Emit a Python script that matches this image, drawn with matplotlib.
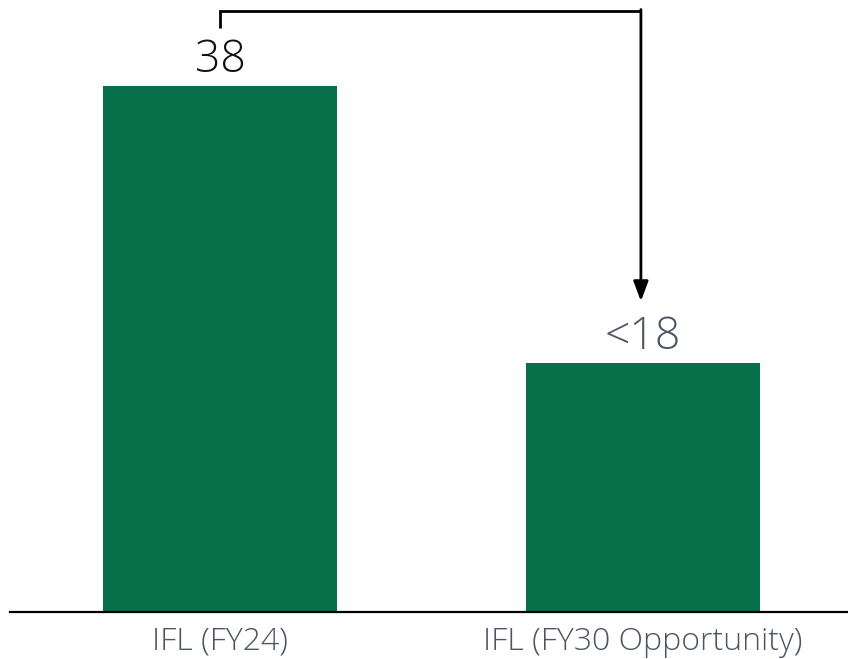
import matplotlib.pyplot as plt

categories = ["IFL (FY24)", "IFL (FY30 Opportunity)"]
values = [38, 18]
value_labels = ["38", "<18"]

green = "#07704B"
slate = "#4B5563"

plt.rcParams['font.family'] = ['Open Sans', 'DejaVu Sans']

fig = plt.figure(figsize=(8.48, 6.59), dpi=100)
ax = fig.add_axes([10 / 848, 47 / 659, 838 / 848, 612 / 659])

x = [0, 1]
ax.bar(x, values, width=0.553, color=green, zorder=2)
ax.set_xlim(-0.4965, 1.4846)
ax.set_ylim(0, 44.21)

# value labels over the bars
label_colors = ["#111111", slate]
for xi, v, txt, c in zip(x, values, value_labels, label_colors):
    ax.text(xi, v + 1.0, txt, ha="center", va="baseline", fontsize=32,
            fontweight="light", color=c)

# bracket arrow from the first bar down to the second
y_start = 42.2
y_top = 43.45
y_tip = 22.45
ax.plot([0, 0, 0.995], [y_start, y_top, y_top], color="black", lw=2.0,
        solid_capstyle="butt", solid_joinstyle="miter", clip_on=False)
ax.annotate("", xy=(0.995, y_tip), xytext=(0.995, y_top + 0.07),
            arrowprops=dict(arrowstyle="-|>,head_length=1.2,head_width=0.45",
                            color="black", lw=2.0, shrinkA=0, shrinkB=0),
            annotation_clip=False)

for s in ["top", "right", "left"]:
    ax.spines[s].set_visible(False)
ax.spines["bottom"].set_linewidth(1.6)
ax.spines["bottom"].set_color("black")
ax.set_yticks([])
ax.set_xticks(x)
ax.set_xticklabels(categories, fontsize=23, fontweight="light", color=slate)
ax.tick_params(axis="x", length=0, pad=10)

fig.savefig("out.png", dpi=100)
